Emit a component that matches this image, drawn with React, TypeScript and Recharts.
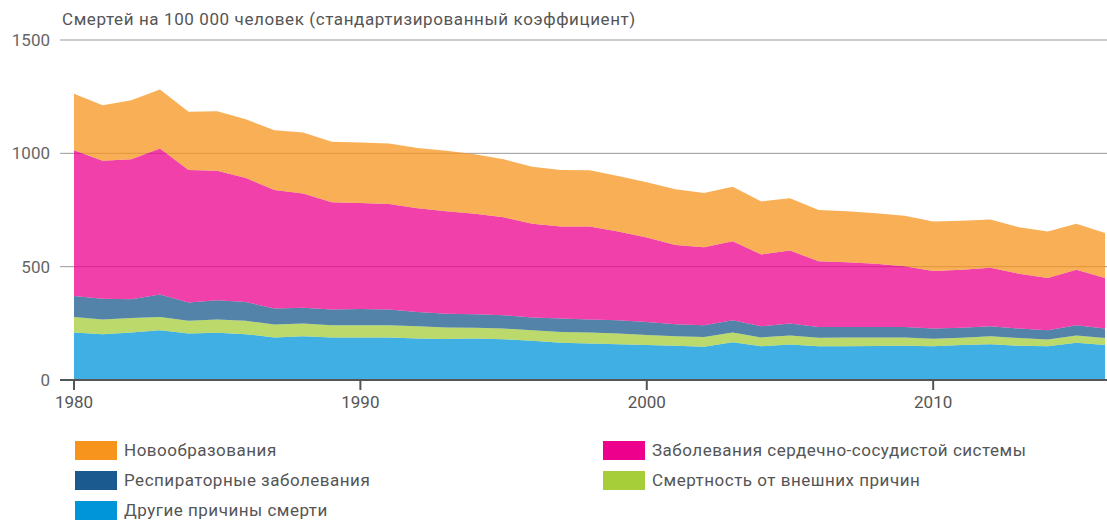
import React from "react";
import { AreaChart, Area, XAxis, YAxis, CartesianGrid } from "recharts";

const years = [
  1980, 1981, 1982, 1983, 1984, 1985, 1986, 1987, 1988, 1989, 1990, 1991, 1992,
  1993, 1994, 1995, 1996, 1997, 1998, 1999, 2000, 2001, 2002, 2003, 2004, 2005,
  2006, 2007, 2008, 2009, 2010, 2011, 2012, 2013, 2014, 2015, 2016,
];

// deaths per 100 000, per cause (not cumulative)
const otherCauses = [
  210, 202, 210, 220, 205, 208, 202, 188, 193, 188, 188, 188, 183, 181, 183, 180,
  173, 164, 161, 158, 154, 151, 147, 166, 149, 157, 149, 149, 150, 151, 149, 154,
  158, 151, 149, 164, 154,
];
const externalCauses = [
  68, 65, 64, 58, 56, 59, 59, 57, 56, 54, 54, 54, 54, 51, 47, 47, 47, 48, 49, 47,
  44, 42, 43, 44, 39, 39, 37, 39, 38, 37, 33, 32, 35, 34, 30, 32, 31,
];
const respiratory = [
  93, 92, 82, 99, 81, 85, 83, 70, 70, 69, 71, 69, 63, 60, 60, 59, 56, 59, 57, 59,
  58, 53, 52, 54, 49, 53, 48, 46, 46, 46, 45, 45, 44, 42, 41, 46, 42,
];
const cardio = [
  643, 608, 618, 644, 584, 571, 547, 523, 504, 473, 468, 466, 458, 452, 443, 432,
  413, 406, 410, 391, 373, 350, 344, 348, 317, 322, 290, 286, 279, 268, 254, 255,
  258, 242, 230, 244, 223,
];
const neoplasms = [
  249, 245, 260, 261, 258, 263, 259, 264, 269, 267, 267, 266, 265, 267, 263, 256,
  252, 250, 248, 245, 243, 246, 239, 241, 234, 231, 226, 224, 223, 223, 218, 217,
  213, 205, 205, 203, 199,
];

const xTicks = [1980, 1990, 2000, 2010];
const yTicks = [0, 500, 1000, 1500];

const title = "Смертей на 100 000 человек (стандартизированный коэффициент)";

// bottom to top
const series = [
  { key: "other", name: "Другие причины смерти", color: "#0094d9" },
  { key: "external", name: "Смертность от внешних причин", color: "#a6ce39" },
  { key: "resp", name: "Респираторные заболевания", color: "#1b5a8e" },
  { key: "cardio", name: "Заболевания сердечно-сосудистой системы", color: "#ec008c" },
  { key: "neo", name: "Новообразования", color: "#f7941d" },
];

// legend layout order
const legendRows = [
  ["neo", "cardio"],
  ["resp", "external"],
  ["other"],
];

const data = years.map((year, i) => ({
  year,
  other: otherCauses[i],
  external: externalCauses[i],
  resp: respiratory[i],
  cardio: cardio[i],
  neo: neoplasms[i],
}));

const font = "Roboto, 'Noto Sans', sans-serif";

export default function App() {
  return (
    <div
      style={{
        position: "absolute",
        left: 0,
        top: 0,
        width: 1107,
        height: 520,
        fontFamily: font,
        background: "#fff",
      }}
    >
      <div
        style={{
          position: "absolute",
          left: 62,
          top: 9,
          fontSize: 17,
          letterSpacing: 0.6,
          color: "#555",
          whiteSpace: "nowrap",
        }}
      >
        {title}
      </div>

      <AreaChart
        width={1107}
        height={420}
        data={data}
        margin={{ top: 40, right: 0, bottom: 10, left: 0 }}
      >
        <CartesianGrid vertical={false} stroke="#999" />
        <XAxis
          type="number"
          dataKey="year"
          domain={[1980, 2016]}
          ticks={xTicks}
          padding={{ left: 14, right: 2 }}
          height={30}
          tickSize={10}
          tickMargin={6}
          stroke="#555"
          strokeWidth={2}
          tick={{ fontSize: 17, fill: "#555", fontFamily: font }}
        />
        <YAxis
          domain={[0, 1500]}
          ticks={yTicks}
          width={60}
          axisLine={false}
          tickLine={false}
          tickMargin={4}
          tick={{ fontSize: 17, fill: "#666", fontFamily: font }}
        />
        {series.map((s) => (
          <Area
            key={s.key}
            type="linear"
            dataKey={s.key}
            stackId="1"
            stroke="none"
            fill={s.color}
            fillOpacity={0.75}
            isAnimationActive={false}
          />
        ))}
      </AreaChart>

      {/* legend */}
      {legendRows.map((row, r) =>
        row.map((key, c) => {
          const s = series.find((d) => d.key === key)!;
          return (
            <div
              key={key}
              style={{
                position: "absolute",
                left: c === 0 ? 75 : 603,
                top: 440 + r * 30,
                height: 20,
                display: "flex",
                alignItems: "center",
                whiteSpace: "nowrap",
              }}
            >
              <div
                style={{ width: 42, height: 19, background: s.color, marginRight: 7 }}
              />
              <span style={{ fontSize: 17, lineHeight: "20px", letterSpacing: 0.5, color: "#555" }}>
                {s.name}
              </span>
            </div>
          );
        })
      )}
    </div>
  );
}
